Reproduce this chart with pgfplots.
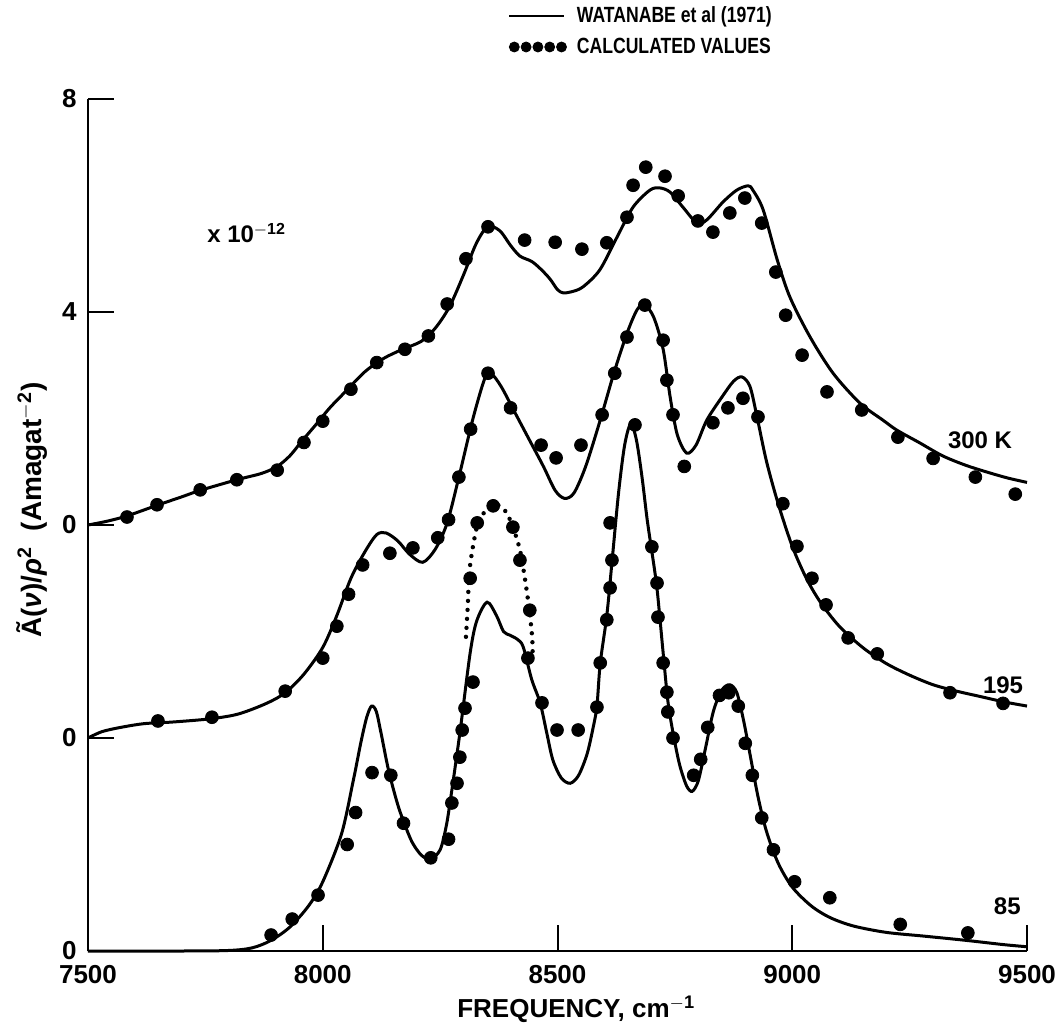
\documentclass[border=0pt]{standalone}
\usepackage{pgfplots}
\pgfplotsset{compat=1.18}
\usepackage{pgfplotstable}
\usepackage{fontspec}
\setmainfont{Liberation Sans}
\newfontfamily\narrowfont[FakeStretch=0.8]{Liberation Sans}

% 85 K, Watanabe (solid)
\pgfplotstableread{
x v
7500 0
7700 0
7800 0.01
7850 0.06
7890 0.2
7930 0.45
7970 0.85
8000 1.3
8040 2.2
8065 3.2
8082 3.95
8094 4.4
8104 4.6
8114 4.5
8124 4.1
8140 3.4
8158 2.8
8171 2.46
8190 2.05
8210 1.8
8230 1.72
8250 1.9
8262 2.3
8271 2.78
8292 4.09
8314 5.6
8328 6.2
8350 6.55
8370 6.3
8385 6.0
8399 5.93
8415 5.85
8427 5.71
8445 5.1
8463 4.66
8477 4.1
8490 3.59
8508 3.25
8527 3.15
8545 3.3
8563 3.7
8576 4.2
8584 4.6
8591 5.4
8605 6.3
8616 7.3
8630 8.6
8643 9.5
8656 9.9
8668 9.6
8680 8.9
8691 8.1
8701 7.5
8712 6.8
8725 5.6
8735 4.7
8746 4.1
8760 3.5
8775 3.1
8787 3.0
8800 3.2
8815 3.8
8832 4.5
8850 4.9
8867 5.0
8882 4.85
8897 4.3
8912 3.6
8927 2.9
8945 2.25
8970 1.65
9000 1.2
9040 0.85
9080 0.63
9130 0.47
9200 0.35
9280 0.28
9370 0.2
9450 0.12
9500 0.08
}\lineA

% 85 K calculated (dots)
\pgfplotstableread{
x v
7890 0.3
7935 0.6
7990 1.05
8052 2.0
8070 2.6
8105 3.35
8145 3.3
8172 2.4
8230 1.75
8268 2.1
8275 2.78
8286 3.15
8292 3.64
8297 4.15
8303 4.56
8320 5.05
8437 5.5
8467 4.66
8499 4.15
8544 4.15
8584 4.58
8591 5.41
8605 6.22
8612 6.82
8616 7.34
8612 8.04
8665 9.88
8701 7.59
8712 6.91
8714 6.27
8725 5.41
8733 4.86
8735 4.49
8746 4.0
8790 3.3
8805 3.6
8820 4.2
8845 4.8
8865 4.85
8885 4.6
8900 3.9
8915 3.3
8935 2.5
8960 1.9
9005 1.3
9080 1.0
9230 0.5
9374 0.34
}\dotsA

% 85 K calculated (dotted curve)
\pgfplotstableread{
x v
8305 5.9
8309 6.5
8312 7.1
8320 7.6
8331 8.04
8350 8.3
8371 8.38
8390 8.25
8405 7.96
8420 7.53
8431 6.97
8440 6.4
8446 5.9
8447 5.6
}\dottedA

% 85 K calculated dots on dotted part
\pgfplotstableread{
x v
8314 7.0
8329 8.04
8363 8.36
8405 7.96
8420 7.34
8441 6.4
}\dotsAb

% 195 K solid
\pgfplotstableread{
x v
7500 0
7530 0.12
7570 0.2
7620 0.27
7680 0.3
7760 0.36
7820 0.45
7880 0.65
7920 0.85
7960 1.2
8000 1.7
8030 2.3
8060 3.0
8090 3.5
8115 3.82
8135 3.85
8160 3.7
8185 3.45
8213 3.3
8240 3.55
8265 4.04
8290 4.9
8320 6.0
8345 6.75
8358 6.85
8380 6.6
8410 6.1
8440 5.6
8470 5.1
8495 4.65
8515 4.5
8535 4.6
8560 5.1
8591 5.97
8620 6.85
8648 7.6
8670 8.05
8686 8.13
8705 7.9
8725 7.3
8740 6.4
8755 5.7
8775 5.35
8795 5.5
8818 5.97
8850 6.4
8875 6.7
8893 6.78
8910 6.6
8925 6.03
8945 5.2
8970 4.4
9000 3.6
9030 3.0
9060 2.55
9100 2.1
9150 1.7
9200 1.4
9250 1.18
9300 1.0
9350 0.88
9400 0.78
9450 0.68
9500 0.6
}\lineB

% 195 K calculated
\pgfplotstableread{
x v
7649 0.32
7764 0.39
7920 0.88
8000 1.5
8030 2.1
8055 2.7
8085 3.25
8143 3.47
8192 3.57
8245 3.76
8268 4.1
8290 4.9
8315 5.8
8352 6.85
8400 6.2
8465 5.5
8497 5.26
8550 5.5
8595 6.07
8622 6.85
8648 7.53
8686 8.13
8725 7.47
8733 6.72
8746 6.07
8770 5.1
8831 5.92
8863 6.2
8895 6.38
8927 6.03
8980 4.4
9010 3.6
9042 3.0
9072 2.5
9119 1.88
9181 1.58
9336 0.85
9449 0.65
}\dotsB

% 300 K solid
\pgfplotstableread{
x v
7500 0
7540 0.07
7583 0.17
7647 0.37
7700 0.53
7739 0.65
7817 0.85
7870 0.97
7903 1.1
7930 1.3
7955 1.57
7985 1.88
8015 2.2
8050 2.52
8090 2.88
8130 3.13
8170 3.3
8210 3.45
8240 3.7
8270 4.1
8300 4.7
8325 5.25
8345 5.55
8362 5.6
8380 5.5
8400 5.25
8420 5.05
8445 4.95
8465 4.8
8484 4.62
8500 4.42
8512 4.36
8530 4.38
8554 4.47
8590 4.79
8627 5.41
8661 5.97
8697 6.29
8718 6.33
8740 6.25
8767 5.97
8797 5.67
8818 5.73
8853 6.07
8882 6.29
8906 6.37
8916 6.29
8938 5.92
8968 4.98
8995 4.28
9038 3.53
9087 2.85
9144 2.29
9193 1.97
9223 1.78
9270 1.55
9320 1.3
9370 1.12
9420 0.98
9460 0.88
9500 0.8
}\lineC

% 300 K calculated
\pgfplotstableread{
x v
7583 0.15
7647 0.38
7739 0.66
7817 0.85
7903 1.03
7960 1.55
8000 1.95
8060 2.55
8115 3.05
8175 3.3
8225 3.55
8265 4.15
8305 5.0
8352 5.6
8430 5.35
8495 5.31
8552 5.18
8605 5.30
8648 5.78
8661 6.38
8688 6.72
8729 6.55
8757 6.18
8799 5.71
8831 5.50
8867 5.86
8899 6.14
8935 5.67
8965 4.75
8986 3.94
9021 3.19
9074 2.5
9148 2.16
9225 1.65
9300 1.25
9390 0.9
9475 0.58
}\dotsC

\begin{document}
\begin{tikzpicture}
\begin{axis}[
  at={(0,0)}, anchor=south west,
  scale only axis, width=469.5pt, height=426pt,
  xmin=7500, xmax=9500, ymin=0, ymax=16,
  axis x line*=bottom, axis y line*=left,
  axis line style={line width=1.3pt},
  xtick={7500,8000,8500,9000,9500},
  ytick={0,4,8,12,16}, yticklabels={0,0,0,4,8},
  tick align=inside, major tick length=13pt,
  tick style={line width=1pt, black},
  every tick label/.append style={font=\bfseries\fontsize{13}{13}\selectfont, inner sep=1pt},
  xticklabel style={yshift=-6pt},
  yticklabel style={xshift=-4.5pt},
  /pgf/number format/1000 sep={},
  /pgf/number format/assume math mode=true,
  clip=false,
  legend style={draw=none, fill=none, at={(0.4473,1.0792)}, anchor=west,
    inner sep=0pt, row sep=2pt,
    font=\narrowfont\bfseries\fontsize{11}{13}\selectfont},
  legend cell align=left,
  mark size=3.2pt,
]
% solid lines
\addplot[black, line width=1.5pt, smooth, tension=0.5, forget plot] table[x=x, y expr=\thisrow{v}] {\lineA};
\addplot[black, line width=1.5pt, smooth, tension=0.5, forget plot] table[x=x, y expr=\thisrow{v}+4] {\lineB};
\addplot[black, line width=1.5pt, smooth, tension=0.5, forget plot] table[x=x, y expr=\thisrow{v}+8] {\lineC};
% dotted calculated curve (85 K)
\addplot[black, line width=2.2pt, line cap=round, dash pattern=on 0pt off 4.5pt, smooth, tension=0.5, forget plot] table[x=x, y expr=\thisrow{v}] {\dottedA};
% calculated values
\addplot[only marks, mark=*, mark options={fill=black, draw=black}, forget plot] table[x=x, y expr=\thisrow{v}] {\dotsA};
\addplot[only marks, mark=*, mark options={fill=black, draw=black}, forget plot] table[x=x, y expr=\thisrow{v}] {\dotsAb};
\addplot[only marks, mark=*, mark options={fill=black, draw=black}, forget plot] table[x=x, y expr=\thisrow{v}+4] {\dotsB};
\addplot[only marks, mark=*, mark options={fill=black, draw=black}, forget plot] table[x=x, y expr=\thisrow{v}+8] {\dotsC};

\addlegendimage{legend image code/.code={\draw[line width=0.9pt] (0pt,0pt) -- (27.5pt,0pt);}}
\addlegendentry{\hspace*{3pt}WATANABE et al (1971)}
\addlegendimage{legend image code/.code={\foreach \i in {0,1,2,3,4} {\fill (2.5pt+\i*5.9pt,0pt) circle (2.5pt);}}}
\addlegendentry{\hspace*{3pt}CALCULATED VALUES}

\node[font=\bfseries\fontsize{13}{13}\selectfont] at (axis cs:8540,-1.09) {FREQUENCY, cm\textsuperscript{$-$1}};
\node[rotate=90, font=\bfseries\fontsize{14}{14}\selectfont] at (axis cs:7381,8.28) {Ã(\textit{ν})/\textit{ρ}\textsuperscript{2}\ \ (Amagat\textsuperscript{$-$2})};
\node[anchor=base west, font=\bfseries\fontsize{12}{12}\selectfont] at (axis cs:7739,13.3) {x 10\textsuperscript{$-$12}};
\node[font=\bfseries\fontsize{12}{12}\selectfont] at (axis cs:9400,9.6) {300 K};
\node[font=\bfseries\fontsize{12}{12}\selectfont] at (axis cs:9449,5.0) {195};
\node[font=\bfseries\fontsize{12}{12}\selectfont] at (axis cs:9458,0.85) {85};
\end{axis}
\pgfresetboundingbox
\path[use as bounding box] (-44pt,-39pt) rectangle (485.5pt,475.5pt);
\end{tikzpicture}
\end{document}
